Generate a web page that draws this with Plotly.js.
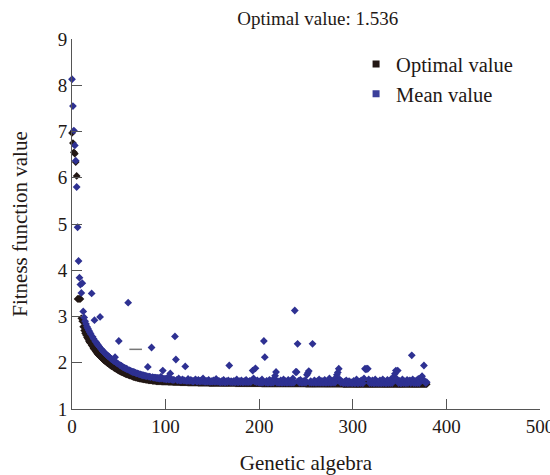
<!DOCTYPE html>
<html>
<head>
<meta charset="utf-8">
<script src="https://cdn.plot.ly/plotly-3.0.1.min.js"></script>
<style>html,body{margin:0;padding:0;background:#fff;}#chart{width:550px;height:475px;}</style>
</head>
<body>
<div id="chart"></div>
<script>
// Generation index (x values)
const generations = Array.from({length: 380}, (_, i) => i);

// Best (optimal) fitness per generation
const optimalValues = [
  6.97,6.75,6.55,6.52,6.34,6.04,3.38,3.38,3.38,3.38,
  2.96,2.90,2.78,2.70,2.64,2.60,2.55,2.52,2.47,2.44,
  2.42,2.38,2.35,2.31,2.29,2.26,2.23,2.20,2.18,2.16,
  2.14,2.12,2.10,2.08,2.06,2.04,2.03,2.01,1.99,1.98,
  1.96,1.95,1.93,1.92,1.91,1.89,1.88,1.87,1.86,1.84,
  1.83,1.82,1.81,1.80,1.79,1.78,1.77,1.76,1.75,1.75,
  1.74,1.73,1.72,1.72,1.71,1.70,1.69,1.69,1.68,1.68,
  1.67,1.67,1.66,1.66,1.65,1.65,1.64,1.64,1.64,1.63,
  1.63,1.63,1.62,1.62,1.62,1.62,1.61,1.61,1.61,1.61,
  1.60,1.60,1.60,1.60,1.60,1.60,1.59,1.59,1.59,1.59,
  1.59,1.59,1.59,1.585,1.585,1.585,1.585,1.585,1.58,1.58,
  1.58,1.58,1.58,1.58,1.58,1.58,1.575,1.575,1.575,1.575,
  1.575,1.575,1.575,1.575,1.57,1.57,1.57,1.57,1.57,1.57,
  1.57,1.57,1.57,1.57,1.57,1.565,1.565,1.565,1.565,1.565,
  1.565,1.565,1.565,1.565,1.565,1.565,1.565,1.56,1.56,1.56,
  1.56,1.56,1.56,1.56,1.56,1.56,1.56,1.56,1.56,1.56,
  1.56,1.56,1.56,1.56,1.56,1.56,1.56,1.56,1.56,1.56,
  1.56,1.56,1.56,1.56,1.56,1.555,1.555,1.555,1.555,1.555,
  1.555,1.555,1.555,1.555,1.555,1.555,1.555,1.555,1.555,1.555,
  1.555,1.555,1.555,1.555,1.555,1.555,1.555,1.555,1.555,1.555,
  1.555,1.555,1.555,1.55,1.55,1.55,1.55,1.55,1.55,1.55,
  1.55,1.55,1.55,1.55,1.55,1.55,1.55,1.55,1.55,1.55,
  1.55,1.55,1.55,1.55,1.55,1.55,1.55,1.55,1.55,1.55,
  1.55,1.55,1.55,1.55,1.55,1.55,1.55,1.55,1.55,1.55,
  1.55,1.55,1.55,1.55,1.55,1.55,1.55,1.55,1.55,1.55,
  1.545,1.545,1.545,1.545,1.545,1.545,1.545,1.545,1.545,1.545,
  1.545,1.545,1.545,1.545,1.545,1.545,1.545,1.545,1.545,1.545,
  1.545,1.545,1.545,1.545,1.545,1.545,1.545,1.545,1.545,1.545,
  1.545,1.545,1.545,1.545,1.545,1.545,1.545,1.545,1.545,1.545,
  1.536,1.536,1.536,1.536,1.536,1.536,1.536,1.536,1.536,1.536,
  1.536,1.536,1.536,1.536,1.536,1.536,1.536,1.536,1.536,1.536,
  1.536,1.536,1.536,1.536,1.536,1.536,1.536,1.536,1.536,1.536,
  1.536,1.536,1.536,1.536,1.536,1.536,1.536,1.536,1.536,1.536,
  1.536,1.536,1.536,1.536,1.536,1.536,1.536,1.536,1.536,1.536,
  1.536,1.536,1.536,1.536,1.536,1.536,1.536,1.536,1.536,1.536,
  1.536,1.536,1.536,1.536,1.536,1.536,1.536,1.536,1.536,1.536,
  1.536,1.536,1.536,1.536,1.536,1.536,1.536,1.536,1.536,1.536,
  1.536,1.536,1.536,1.536,1.536,1.536,1.536,1.536,1.536,1.536
];

// Mean fitness of the population per generation
const meanValues = [
  8.13,7.55,7.02,6.70,6.37,5.80,4.93,4.20,3.84,3.69,
  3.51,3.72,3.11,2.98,2.90,2.84,2.78,2.74,2.70,2.66,
  2.62,3.50,2.56,2.52,2.92,2.46,2.44,2.40,2.38,2.35,
  2.99,2.30,2.28,2.25,2.23,2.21,2.19,2.17,2.15,2.14,
  2.12,2.10,2.08,2.07,2.05,2.03,2.12,2.01,1.99,1.98,
  2.47,1.95,1.94,1.93,1.91,1.90,1.89,1.88,1.87,1.86,
  3.30,1.84,1.83,1.82,1.81,1.80,1.80,1.79,1.78,1.77,
  1.77,1.76,1.75,1.75,1.74,1.73,1.73,1.72,1.72,1.71,
  1.71,1.91,1.70,1.70,1.69,2.33,1.69,1.68,1.68,1.68,
  1.67,1.67,1.67,1.66,1.66,1.70,1.66,1.83,1.65,1.65,
  1.65,1.64,1.68,1.64,1.64,1.77,1.64,1.63,1.63,1.63,
  2.57,2.07,1.63,1.62,1.66,1.62,1.62,1.62,1.64,1.62,
  1.62,1.92,1.61,1.61,1.65,1.61,1.61,1.63,1.61,1.60,
  1.60,1.62,1.64,1.60,1.60,1.63,1.60,1.60,1.62,1.60,
  1.66,1.60,1.59,1.59,1.61,1.59,1.63,1.59,1.59,1.60,
  1.59,1.62,1.59,1.59,1.65,1.59,1.59,1.61,1.58,1.58,
  1.60,1.58,1.63,1.58,1.58,1.60,1.58,1.62,1.94,1.58,
  1.60,1.58,1.58,1.61,1.58,1.58,1.64,1.58,1.58,1.60,
  1.58,1.62,1.58,1.58,1.60,1.58,1.63,1.58,1.59,1.58,
  1.61,1.58,1.62,1.83,1.66,1.60,1.88,1.58,1.62,1.58,
  1.57,1.60,1.57,1.64,1.57,2.47,2.12,1.57,1.61,1.57,
  1.57,1.63,1.57,1.57,1.61,1.57,1.66,1.72,1.80,1.57,
  1.60,1.57,1.57,1.62,1.57,1.57,1.64,1.57,1.60,1.57,
  1.57,1.63,1.57,1.60,1.57,1.57,1.66,1.57,3.13,1.80,
  1.80,2.41,1.61,1.57,1.63,1.57,1.57,1.60,1.57,1.62,
  1.57,1.74,1.78,1.82,1.57,1.60,1.57,2.41,1.57,1.62,
  1.57,1.57,1.60,1.57,1.64,1.57,1.57,1.61,1.57,1.57,
  1.63,1.57,1.57,1.60,1.57,1.66,1.57,1.57,1.61,1.57,
  1.60,1.57,1.68,1.74,1.79,1.87,1.64,1.57,1.60,1.57,
  1.56,1.59,1.56,1.62,1.56,1.56,1.60,1.56,1.58,1.56,
  1.56,1.61,1.56,1.56,1.64,1.56,1.56,1.59,1.56,1.62,
  1.56,1.56,1.66,1.87,1.86,1.87,1.87,1.64,1.56,1.60,
  1.56,1.62,1.56,1.56,1.64,1.56,1.59,1.56,1.56,1.62,
  1.56,1.56,1.64,1.56,1.60,1.56,1.56,1.63,1.56,1.60,
  1.56,1.65,1.56,1.60,1.70,1.76,1.83,1.65,1.83,1.56,
  1.61,1.56,1.56,1.64,1.56,1.60,1.56,1.56,1.63,1.56,
  1.60,1.62,1.56,2.16,1.64,1.56,1.60,1.56,1.62,1.56,
  1.65,1.56,1.60,1.68,1.71,1.62,1.94,1.60,1.56,1.58
];

// Stray dash mark in the plot
const dashX = [68];
const dashY = [2.29];

const seriesNames = ["Optimal value", "Mean value"];
const chartTitle = "Optimal value: 1.536";
const xTitle = "Genetic algebra";
const yTitle = "Fitness function value";
const xTicks = [0, 100, 200, 300, 400, 500];
const yTicks = [1, 2, 3, 4, 5, 6, 7, 8, 9];

const cOpt = "#231815";
const cMean = "#2e3192";
const font = "Liberation Serif, Times New Roman, serif";

const traces = [
  {x: generations, y: optimalValues, type: "scatter", mode: "markers", showlegend: false,
   cliponaxis: false, marker: {symbol: "diamond", size: 6, color: cOpt}},
  {x: generations, y: meanValues, type: "scatter", mode: "markers", showlegend: false,
   cliponaxis: false, marker: {symbol: "diamond", size: 6, color: cMean}},
  {x: dashX, y: dashY, type: "scatter", mode: "markers", showlegend: false,
   marker: {symbol: "line-ew", size: 9, line: {color: "#777", width: 1.5}}},
  {x: [null], y: [null], type: "scatter", mode: "markers", name: seriesNames[0],
   marker: {symbol: "square", size: 7, color: cOpt}},
  {x: [null], y: [null], type: "scatter", mode: "markers", name: seriesNames[1],
   marker: {symbol: "square", size: 7, color: "#3b3f9a"}}
];

const axisCommon = {
  showgrid: false, zeroline: false, showline: true, linecolor: "#555", linewidth: 1,
  ticks: "inside", ticklen: 10, tickcolor: "#555", tickwidth: 1,
  ticklabeloverflow: "allow",
  tickfont: {family: font, size: 19, color: "#231815"}
};

const layout = {
  width: 550, height: 475,
  margin: {l: 72, r: 10, t: 39, b: 66, pad: 0},
  paper_bgcolor: "#fff", plot_bgcolor: "#fff",
  font: {family: font, color: "#231815"},
  title: {text: chartTitle, font: {family: font, size: 19, color: "#231815"},
          x: 0.525, xanchor: "center", xref: "paper", y: 0.962, yanchor: "middle", yref: "container"},
  xaxis: Object.assign({}, axisCommon, {
    range: [0, 500], tickvals: xTicks, ticktext: xTicks.map(String),
    title: {text: xTitle, font: {family: font, size: 21, color: "#231815"}, standoff: 25}
  }),
  yaxis: Object.assign({}, axisCommon, {
    range: [1, 9], tickvals: yTicks, ticktext: yTicks.map(String),
    title: {text: yTitle, font: {family: font, size: 21, color: "#231815"}, standoff: 24}
  }),
  legend: {x: 0.607, y: 0.986, xanchor: "left", yanchor: "top", bgcolor: "rgba(0,0,0,0)",
           font: {family: font, size: 20.5, color: "#231815"}, tracegroupgap: 0}
};

Plotly.newPlot("chart", traces, layout, {displayModeBar: false, staticPlot: true});
</script>
</body>
</html>
